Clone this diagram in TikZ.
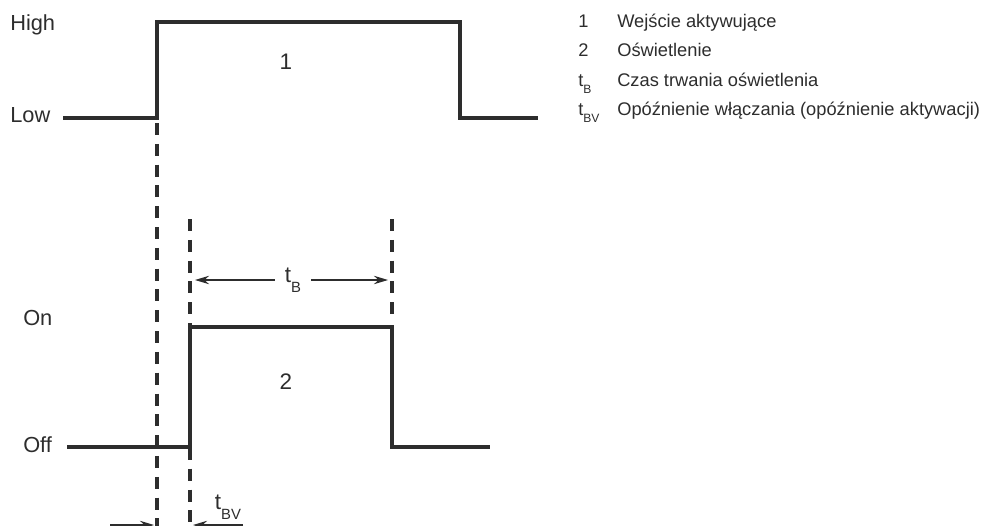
\documentclass[tikz,border=0pt]{standalone}
\usepackage{fontspec}
\setmainfont{Liberation Sans}
\usepackage{graphicx}
\usetikzlibrary{arrows.meta}
\definecolor{DG}{RGB}{45,45,45}
\newcommand{\idx}[1]{\raisebox{-0.42em}{\scalebox{0.66}{#1}}}

\begin{document}
\begin{tikzpicture}[
  x=0.025cm, y=-0.025cm,
  sig/.style={draw=DG, line width=2.3pt},
  guide/.style={draw=DG, line width=2.3pt, dash pattern=on 8.5pt off 6.3pt},
  dim/.style={-{Stealth[length=10pt, width=6pt]}, draw=DG, line width=0.8pt},
  lvl/.style={anchor=base west, inner sep=0pt, text=DG, font=\fontsize{15.5}{18}\selectfont},
  num/.style={inner sep=0pt, text=DG, font=\fontsize{16}{19}\selectfont},
  leg/.style={anchor=base west, inner sep=0pt, text=DG, font=\fontsize{13}{15}\selectfont}
]
\useasboundingbox (0,0) rectangle (987,526);

\coordinate (in0) at (63,118);
\coordinate (in1) at (157,118);
\coordinate (in2) at (157,22);
\coordinate (in3) at (460,22);
\coordinate (in4) at (460,118);
\coordinate (in5) at (538,118);

\coordinate (li0) at (67,447);
\coordinate (li1) at (190,447);
\coordinate (li2) at (190,327);
\coordinate (li3) at (392,327);
\coordinate (li4) at (392,447);
\coordinate (li5) at (490,447);

\coordinate (g1a) at (157,123);
\coordinate (g1b) at (157,526);
\coordinate (g2a) at (190,219);
\coordinate (g2b) at (190,526);
\coordinate (g3a) at (392,219);
\coordinate (g3b) at (392,322);

\draw[guide] (g1a)--(g1b);
\draw[guide] (g2a)--(g2b);
\draw[guide] (g3a)--(g3b);

\draw[sig] (in0)--(in1)--(in2)--(in3)--(in4)--(in5);
\draw[sig] (li0)--(li1)--(li2)--(li3)--(li4)--(li5);

\node[lvl] (high) at (10,30)  {High};
\node[lvl] (low)  at (10,122) {Low};
\node[lvl] (on)   at (23,325) {On};
\node[lvl] (off)  at (23,452) {Off};
\node[num] (n1)   at (286,62)  {1};
\node[num] (n2)   at (286,382) {2};

\node[num, inner xsep=7pt, inner ysep=0pt] (tB) at (293,280) {t\idx{B}};
\coordinate (tBl) at (195,280);
\coordinate (tBr) at (388,280);
\draw[dim] (tB.west)--(tBl);
\draw[dim] (tB.east)--(tBr);

\node[num] (tBV) at (228,507) {t\idx{BV}};
\coordinate (bv0) at (110,525);
\coordinate (bv1) at (154,525);
\coordinate (bv2) at (243,525);
\coordinate (bv3) at (193,525);
\draw[dim] (bv0)--(bv1);
\draw[dim] (bv2)--(bv3);

\node[leg] (k1) at (578,27)   {1};
\node[leg] (d1) at (617,27)   {Wejście aktywujące};
\node[leg] (k2) at (578,56.5) {2};
\node[leg] (d2) at (617,56.5) {Oświetlenie};
\node[leg] (k3) at (578,86)   {t\idx{B}};
\node[leg] (d3) at (617,86)   {Czas trwania oświetlenia};
\node[leg] (k4) at (578,115)  {t\idx{BV}};
\node[leg] (d4) at (617,115)  {Opóźnienie włączania (opóźnienie aktywacji)};
\end{tikzpicture}
\end{document}
